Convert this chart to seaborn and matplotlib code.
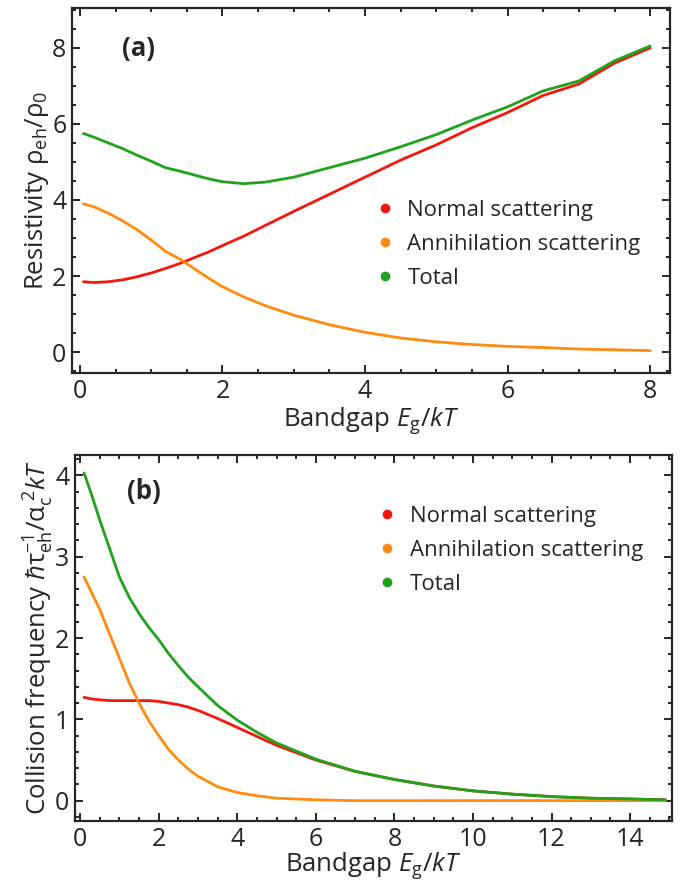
#!/usr/bin/env python3
# Resistivity and collision frequency vs bandgap, two stacked panels

import numpy as np
import pandas as pd
import matplotlib
matplotlib.use("Agg")
import matplotlib.pyplot as plt
from matplotlib.lines import Line2D
from matplotlib.ticker import MultipleLocator
import seaborn as sns

# panel (a) data
eg_a = [0.05, 0.2, 0.4, 0.6, 0.8, 1.0, 1.2, 1.4, 1.6, 1.8, 2.0, 2.3, 2.6, 3.0, 3.5, 4.0, 4.5, 5.0, 5.5, 6.0, 6.5, 7.0, 7.5, 8.0]
normal_a = [1.85, 1.83, 1.85, 1.9, 1.98, 2.08, 2.2, 2.33, 2.48, 2.63, 2.8, 3.05, 3.33, 3.7, 4.15, 4.6, 5.05, 5.45, 5.9, 6.3, 6.75, 7.05, 7.6, 8.0]
annih_a = [3.9, 3.82, 3.65, 3.45, 3.22, 2.95, 2.65, 2.45, 2.2, 1.95, 1.72, 1.45, 1.22, 0.97, 0.72, 0.52, 0.37, 0.27, 0.2, 0.15, 0.12, 0.08, 0.06, 0.04]
total_a = [5.75, 5.65, 5.5, 5.35, 5.18, 5.02, 4.85, 4.76, 4.66, 4.56, 4.48, 4.43, 4.47, 4.6, 4.85, 5.1, 5.4, 5.72, 6.1, 6.45, 6.87, 7.13, 7.66, 8.05]

# panel (b) data
eg_b = [0.1, 0.3, 0.5, 0.75, 1.0, 1.25, 1.5, 1.75, 2.0, 2.25, 2.5, 2.75, 3.0, 3.5, 4.0, 4.5, 5.0, 5.5, 6.0, 7.0, 8.0, 9.0, 10.0, 11.0, 12.0, 13.0, 14.0, 14.9]
normal_b = [1.27, 1.25, 1.24, 1.23, 1.23, 1.23, 1.23, 1.23, 1.22, 1.2, 1.18, 1.15, 1.11, 1.01, 0.9, 0.79, 0.68, 0.59, 0.5, 0.36, 0.26, 0.18, 0.12, 0.08, 0.05, 0.03, 0.02, 0.01]
annih_b = [2.75, 2.55, 2.35, 2.05, 1.75, 1.45, 1.2, 0.98, 0.8, 0.63, 0.5, 0.39, 0.3, 0.17, 0.1, 0.06, 0.03, 0.02, 0.01, 0.0, 0.0, 0.0, 0.0, 0.0, 0.0, 0.0, 0.0, 0.0]
total_b = [4.03, 3.75, 3.45, 3.1, 2.75, 2.5, 2.3, 2.13, 1.98, 1.81, 1.66, 1.52, 1.4, 1.17, 0.99, 0.84, 0.71, 0.61, 0.51, 0.36, 0.26, 0.18, 0.12, 0.08, 0.05, 0.03, 0.02, 0.01]

series = ["Normal scattering", "Annihilation scattering", "Total"]
colors = ["#f5160c", "#ff8c10", "#1fa31c"]

sns.set_style("ticks")
plt.rcParams['font.family'] = ['Open Sans', 'DejaVu Sans']
plt.rcParams['mathtext.fontset'] = 'custom'
plt.rcParams['mathtext.rm'] = 'Open Sans'
plt.rcParams['mathtext.it'] = 'Open Sans:italic'
plt.rcParams['mathtext.bf'] = 'Open Sans:bold'


def long_df(x, ys):
    frames = []
    for name, y in zip(series, ys):
        frames.append(pd.DataFrame({"x": x, "y": y, "kind": name}))
    return pd.concat(frames, ignore_index=True)


def style_axes(ax, xminor, yminor):
    for sp in ax.spines.values():
        sp.set_linewidth(1.6)
        sp.set_visible(True)
    ax.xaxis.set_minor_locator(MultipleLocator(xminor))
    ax.yaxis.set_minor_locator(MultipleLocator(yminor))
    ax.tick_params(which="both", direction="in", top=True, right=True, width=1.4)
    ax.tick_params(which="major", length=6, labelsize=18, pad=4)
    ax.tick_params(which="minor", length=3)


def dot_legend(ax, loc):
    handles = [Line2D([], [], marker="o", ls="none", color=c, markersize=6) for c in colors]
    ax.legend(handles, series, loc="upper left", bbox_to_anchor=loc, frameon=False,
              fontsize=16, handlelength=1.0, handletextpad=0.5, labelspacing=0.58,
              borderaxespad=0, borderpad=0)


fig = plt.figure(figsize=(6.82, 8.86), dpi=100)
ax_a = fig.add_axes([0.1056, 0.579, 0.877, 0.412])
ax_b = fig.add_axes([0.110, 0.0734, 0.875, 0.413])

sns.lineplot(data=long_df(eg_a, [normal_a, annih_a, total_a]), x="x", y="y", hue="kind",
             palette=colors, linewidth=2.0, ax=ax_a, legend=False)
ax_a.set_xlim(-0.11, 8.28)
ax_a.set_ylim(-0.55, 9.05)
ax_a.set_xticks([0, 2, 4, 6, 8])
ax_a.set_yticks([0, 2, 4, 6, 8])
style_axes(ax_a, 0.5, 0.5)
ax_a.set_xlabel(r"Bandgap $\mathit{E}_{\rm g}/\mathit{kT}$", fontsize=18.5, labelpad=1)
ax_a.set_ylabel("Resistivity ρ$_{\\rm eh}$/ρ$_{\\rm 0}$", fontsize=18.5, labelpad=1)
ax_a.text(0.084, 0.89, "(a)", transform=ax_a.transAxes, fontsize=18.5, fontweight="bold",
          va="center", ha="left")
dot_legend(ax_a, (0.505, 0.474))

sns.lineplot(data=long_df(eg_b, [normal_b, annih_b, total_b]), x="x", y="y", hue="kind",
             palette=colors, linewidth=2.0, ax=ax_b, legend=False)
ax_b.set_xlim(-0.13, 15.06)
ax_b.set_ylim(-0.25, 4.25)
ax_b.set_xticks(range(0, 15, 2))
ax_b.set_yticks([0, 1, 2, 3, 4])
style_axes(ax_b, 0.5, 0.2)
ax_b.set_xlabel(r"Bandgap $\mathit{E}_{\rm g}/\mathit{kT}$", fontsize=18.5, labelpad=-1)
ax_b.set_ylabel("Collision frequency $\\hbar$τ$_{\\rm eh}^{-1}$/α$_{\\rm c}^{\\;2}$$\\mathit{kT}$",
                fontsize=18.5, labelpad=-1)
ax_b.text(0.087, 0.90, "(b)", transform=ax_b.transAxes, fontsize=18.5, fontweight="bold",
          va="center", ha="left")
dot_legend(ax_b, (0.505, 0.861))

fig.savefig("out.png", dpi=100)
